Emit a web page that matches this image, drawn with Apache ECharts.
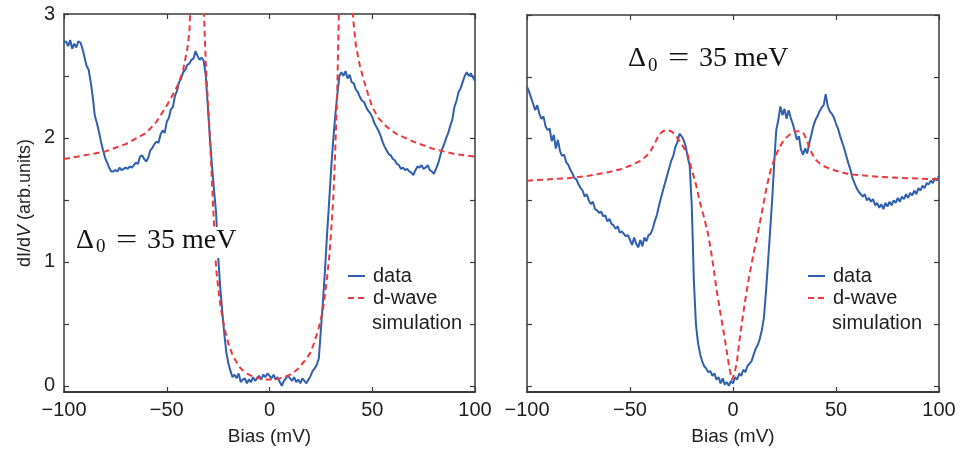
<!DOCTYPE html>
<html>
<head>
<meta charset="utf-8">
<script src="https://cdn.jsdelivr.net/npm/echarts@6/dist/echarts.min.js"></script>
<style>
html,body{margin:0;padding:0;background:#fff;}
#chart{width:965px;height:451px;}
</style>
</head>
<body>
<div id="chart"></div>
<script>
// Bias values (mV) of the measured spectra
const bias = [
-100,-99,-98,-97,-96,-95,-94,-93,-92,-91,
-90,-89,-88,-87,-86,-85,-84,-83,-82,-81,
-80,-79,-78,-77,-76,-75,-74,-73,-72,-71,
-70,-69,-68,-67,-66,-65,-64,-63,-62,-61,
-60,-59,-58,-57,-56,-55,-54,-53,-52,-51,
-50,-49,-48,-47,-46,-45,-44,-43,-42,-41,
-40,-39,-38,-37,-36,-35,-34,-33,-32,-31,
-30,-29,-28,-27,-26,-25,-24,-23,-22,-21,
-20,-19,-18,-17,-16,-15,-14,-13,-12,-11,
-10,-9,-8,-7,-6,-5,-4,-3,-2,-1,
0,1,2,3,4,5,6,7,8,9,
10,11,12,13,14,15,16,17,18,19,
20,21,22,23,24,25,26,27,28,29,
30,31,32,33,34,35,36,37,38,39,
40,41,42,43,44,45,46,47,48,49,
50,51,52,53,54,55,56,57,58,59,
60,61,62,63,64,65,66,67,68,69,
70,71,72,73,74,75,76,77,78,79,
80,81,82,83,84,85,86,87,88,89,
90,91,92,93,94,95,96,97,98,99,
100];

// Left panel: measured dI/dV
const dataLeft = [
2.77,2.78,2.74,2.79,2.72,2.76,2.73,2.78,2.77,2.72,
2.65,2.58,2.55,2.45,2.33,2.18,2.12,2.05,1.97,1.9,
1.84,1.8,1.76,1.73,1.73,1.74,1.73,1.76,1.74,1.75,
1.76,1.75,1.77,1.76,1.78,1.8,1.79,1.85,1.86,1.83,
1.81,1.84,1.9,1.92,1.95,1.97,1.96,2.03,2.06,2.04,
2.13,2.16,2.23,2.25,2.34,2.38,2.45,2.48,2.53,2.55,
2.59,2.6,2.63,2.64,2.7,2.66,2.63,2.65,2.62,2.5,
2.25,2.0,1.78,1.58,1.4,1.05,0.8,0.6,0.42,0.27,
0.18,0.12,0.07,0.09,0.06,0.1,0.03,0.05,0.06,0.02,
0.05,0.03,0.07,0.04,0.06,0.08,0.05,0.09,0.07,0.1,
0.08,0.06,0.09,0.05,0.07,0.03,0.0,0.04,0.06,0.08,
0.06,0.04,0.07,0.03,0.05,0.02,0.06,0.04,0.02,0.05,
0.08,0.12,0.14,0.17,0.22,0.45,0.68,0.93,1.22,1.48,
1.75,1.98,2.18,2.35,2.5,2.53,2.5,2.54,2.48,2.51,
2.45,2.44,2.39,2.37,2.33,2.3,2.29,2.25,2.22,2.2,
2.17,2.12,2.09,2.06,2.02,1.97,1.93,1.9,1.87,1.86,
1.83,1.82,1.79,1.78,1.75,1.76,1.74,1.75,1.73,1.72,
1.7,1.74,1.77,1.76,1.78,1.75,1.76,1.78,1.74,1.73,
1.71,1.75,1.79,1.85,1.91,1.95,2.0,2.04,2.1,2.15,
2.25,2.3,2.37,2.4,2.45,2.5,2.53,2.5,2.52,2.49,
2.46];

// Left panel: d-wave simulation
const simLeftBias = [-100,-90,-80,-70,-60,-55,-50,-46,-44,-42,-40,-39,-38.5,-36,-32,-31,-30,-29,-28,-27,-26,-25,-24,-23,-22,-20,-18,-16,-14,-12,-10,-8,-5,-2,0,2,5,8,10,12,14,16,18,20,22,24,26,28,29,30,31,32,33,33.8,37,40.5,42,44,46,48,50,53,57,62,70,80,90,100];
const simLeft = [1.83,1.86,1.89,1.95,2.04,2.13,2.26,2.38,2.45,2.55,2.72,2.85,3.05,5,3.05,2.6,2.3,2.0,1.65,1.3,0.95,0.8,0.66,0.56,0.47,0.34,0.25,0.19,0.14,0.11,0.09,0.075,0.06,0.05,0.05,0.05,0.06,0.075,0.09,0.11,0.14,0.18,0.22,0.27,0.36,0.47,0.61,0.87,1.03,1.25,1.5,1.9,2.4,3.05,5,3.0,2.75,2.58,2.46,2.35,2.25,2.16,2.09,2.03,1.97,1.91,1.87,1.85];

// Right panel: measured dI/dV
const dataRight = [
2.42,2.38,2.33,2.28,2.23,2.27,2.2,2.16,2.18,2.1,
2.07,2.08,1.98,2.03,1.92,1.99,1.9,1.86,1.87,1.81,
1.79,1.75,1.72,1.68,1.67,1.63,1.6,1.58,1.53,1.55,
1.5,1.47,1.49,1.43,1.42,1.4,1.41,1.37,1.38,1.33,
1.35,1.31,1.3,1.27,1.29,1.24,1.25,1.23,1.21,1.22,
1.18,1.14,1.2,1.15,1.12,1.18,1.13,1.2,1.17,1.22,
1.23,1.27,1.33,1.38,1.45,1.52,1.58,1.64,1.7,1.76,
1.82,1.86,1.93,1.97,2.04,2.02,1.99,1.94,1.85,1.78,
1.45,0.85,0.5,0.35,0.26,0.2,0.16,0.14,0.11,0.12,
0.08,0.1,0.05,0.07,0.02,0.06,0.01,0.03,0.0,0.04,
0.02,0.07,0.05,0.1,0.08,0.13,0.11,0.16,0.18,0.2,
0.25,0.3,0.33,0.38,0.45,0.55,0.76,1.0,1.25,1.5,
1.8,2.07,2.15,2.26,2.19,2.24,2.16,2.23,2.17,2.12,
2.06,1.99,2.02,1.91,1.87,1.92,1.88,1.96,2.03,2.1,
2.15,2.18,2.22,2.25,2.27,2.36,2.26,2.22,2.2,2.17,
2.12,2.08,2.02,1.97,1.92,1.86,1.8,1.75,1.68,1.64,
1.6,1.57,1.55,1.53,1.55,1.5,1.52,1.49,1.51,1.46,
1.48,1.44,1.47,1.43,1.48,1.45,1.49,1.46,1.5,1.48,
1.52,1.49,1.53,1.51,1.55,1.52,1.56,1.54,1.58,1.55,
1.6,1.58,1.62,1.6,1.64,1.63,1.66,1.64,1.68,1.66,
1.7];

// Right panel: d-wave simulation
const simRightBias = [-100,-90,-80,-70,-60,-55,-50,-45,-42,-40,-38,-36,-34,-32,-30,-28,-26,-24,-22,-20,-18,-16,-14,-12,-10,-8,-6,-4,-2,-1,-0.5,0,1,2,3,4,5,6,7,8,10,12,14,16,18,20,22,24,26,28,30,32,34,35,36,37,38,40,42,45,48,52,57,65,72,85,100];
const simRight = [1.66,1.67,1.68,1.7,1.73,1.75,1.78,1.82,1.86,1.9,1.96,2.03,2.06,2.07,2.06,2.03,1.98,1.93,1.87,1.75,1.63,1.48,1.36,1.22,1.02,0.78,0.58,0.38,0.17,0.08,0.05,0.07,0.12,0.21,0.35,0.47,0.59,0.7,0.8,0.9,1.07,1.23,1.4,1.58,1.73,1.83,1.91,1.97,2.01,2.04,2.06,2.06,2.05,2.02,1.98,1.93,1.89,1.83,1.8,1.77,1.75,1.73,1.71,1.7,1.69,1.68,1.67];

// Axis ticks and labels
const xTickValues = [-100, -50, 0, 50, 100];
const yTickValues = [0, 0.5, 1, 1.5, 2, 2.5, 3];
const yLabelValues = [0, 1, 2, 3];
const seriesNames = ['data', 'd-wave simulation'];
// Annotation "Δ0 = 35 meV" split into its typeset pieces (symbol, subscript, relation, number, unit)
const annotationParts = ['\u0394', '0', '=', '35', 'meV'];

const pair = (xs, ys) => xs.map((x, i) => [x, ys[i]]);

const BLUE = '#2f5fae';
const RED = '#f0373a';
const AX = '#3a3a3a';
const TXT = '#1e1e1e';
const SANS = '"Liberation Sans", Arial, sans-serif';
const SERIF = '"Liberation Serif", "DejaVu Serif", serif';

function xAx(gridIndex, pos, labels) {
  return {
    type: 'value', gridIndex, position: pos, min: -100, max: 100, interval: 50,
    axisLine: { show: true, onZero: false, lineStyle: { color: AX, width: pos === 'bottom' ? 2 : 1.5 } },
    axisTick: { show: true, inside: true, length: 5, lineStyle: { color: AX, width: 1.2 }, customValues: xTickValues },
    axisLabel: {
      show: labels, margin: 8, fontSize: 20, color: TXT, fontFamily: SANS,
      customValues: xTickValues,
      formatter: v => v < 0 ? '\u2212' + Math.abs(v) : String(v)
    },
    splitLine: { show: false },
    name: labels ? 'Bias (mV)' : '', nameLocation: 'middle', nameGap: 35,
    nameTextStyle: { fontSize: 19, color: TXT, fontFamily: SANS }
  };
}
function yAx(gridIndex, pos, labels, name) {
  return {
    type: 'value', gridIndex, position: pos, min: -0.05, max: 3,
    axisLine: { show: true, onZero: false, lineStyle: { color: AX, width: 1.5 } },
    axisTick: { show: true, inside: true, length: 5, lineStyle: { color: AX, width: 1.2 }, customValues: yTickValues },
    axisLabel: { show: labels, margin: 9, fontSize: 20, color: TXT, fontFamily: SANS, customValues: yLabelValues, padding: [5, 0, 0, 0] },
    splitLine: { show: false },
    name: name || '', nameLocation: 'middle', nameGap: 30, nameRotate: 90,
    nameTextStyle: {
      fontSize: 18, color: TXT, fontFamily: SANS,
      rich: { n: { fontSize: 18, fontFamily: SANS, color: TXT }, i: { fontSize: 18, fontFamily: SANS, fontStyle: 'italic', color: TXT } }
    }
  };
}

function lineSeries(name, xi, yi, pts, color, dashed) {
  return {
    name, type: 'line', xAxisIndex: xi, yAxisIndex: yi, data: pts,
    symbol: 'none', showSymbol: false, smooth: false, clip: true, animation: false,
    z: dashed ? 4 : 3,
    lineStyle: { color, width: 2, type: dashed ? [6, 4] : 'solid' },
    itemStyle: { color }
  };
}

function legendAt(left) {
  return {
    orient: 'vertical', left, top: 266, padding: 0, itemGap: 2,
    itemWidth: 17, itemHeight: 14, selectedMode: false,
    itemStyle: { opacity: 0, borderWidth: 0 },
    data: seriesNames,
    formatter: n => n === 'd-wave simulation' ? 'd-wave' : n,
    textStyle: { fontSize: 20, lineHeight: 20, color: TXT, fontFamily: SANS, padding: [0, 0, 0, 3] }
  };
}

// annotation: group of text pieces, placed like the typeset formula
function annotation(x0, yMid) {
  const main = '28px ' + SERIF;
  const sub = '19px ' + SERIF;
  const offs = [0, 20, 40, 71, 106];
  return {
    type: 'group', x: x0, y: yMid, z: 101,
    children: annotationParts.map((t, i) => ({
      type: 'text', z: 101, x: offs[i], y: i === 1 ? 7 : 0,
      scaleX: i === 2 ? 1.35 : 1,
      style: { text: t, font: i === 1 ? sub : main, fill: '#111', align: 'left', verticalAlign: 'middle' }
    }))
  };
}

const option = {
  backgroundColor: '#fff',
  animation: false,
  grid: [
    { left: 64, top: 14, width: 411, height: 381, containLabel: false },
    { left: 527, top: 15, width: 412, height: 380, containLabel: false }
  ],
  xAxis: [xAx(0, 'bottom', true), xAx(0, 'top', false), xAx(1, 'bottom', true), xAx(1, 'top', false)],
  yAxis: [
    yAx(0, 'left', true, '{n|dI/d}{i|V}{n| (arb.units)}'),
    yAx(0, 'right', false),
    yAx(1, 'left', false),
    yAx(1, 'right', false)
  ],
  legend: [legendAt(347), legendAt(807)],
  series: [
    lineSeries(seriesNames[0], 0, 0, pair(bias, dataLeft), BLUE, false),
    lineSeries(seriesNames[1], 0, 0, pair(simLeftBias, simLeft), RED, true),
    lineSeries(seriesNames[0], 2, 2, pair(bias, dataRight), BLUE, false),
    lineSeries(seriesNames[1], 2, 2, pair(simRightBias, simRight), RED, true)
  ],
  graphic: [
    { type: 'rect', z: 100, shape: { x: 66, y: 227, width: 176, height: 31 }, style: { fill: '#fff' } },
    annotation(76, 240.5),
    annotation(628, 59),
    { type: 'text', z: 101, x: 372, y: 323, style: { text: 'simulation', font: '20px ' + SANS, fill: TXT, align: 'left', verticalAlign: 'middle' } },
    { type: 'text', z: 101, x: 832, y: 323, style: { text: 'simulation', font: '20px ' + SANS, fill: TXT, align: 'left', verticalAlign: 'middle' } }
  ]
};

const chart = echarts.init(document.getElementById('chart'), null, { renderer: 'canvas' });
chart.setOption(option);
</script>
</body>
</html>
